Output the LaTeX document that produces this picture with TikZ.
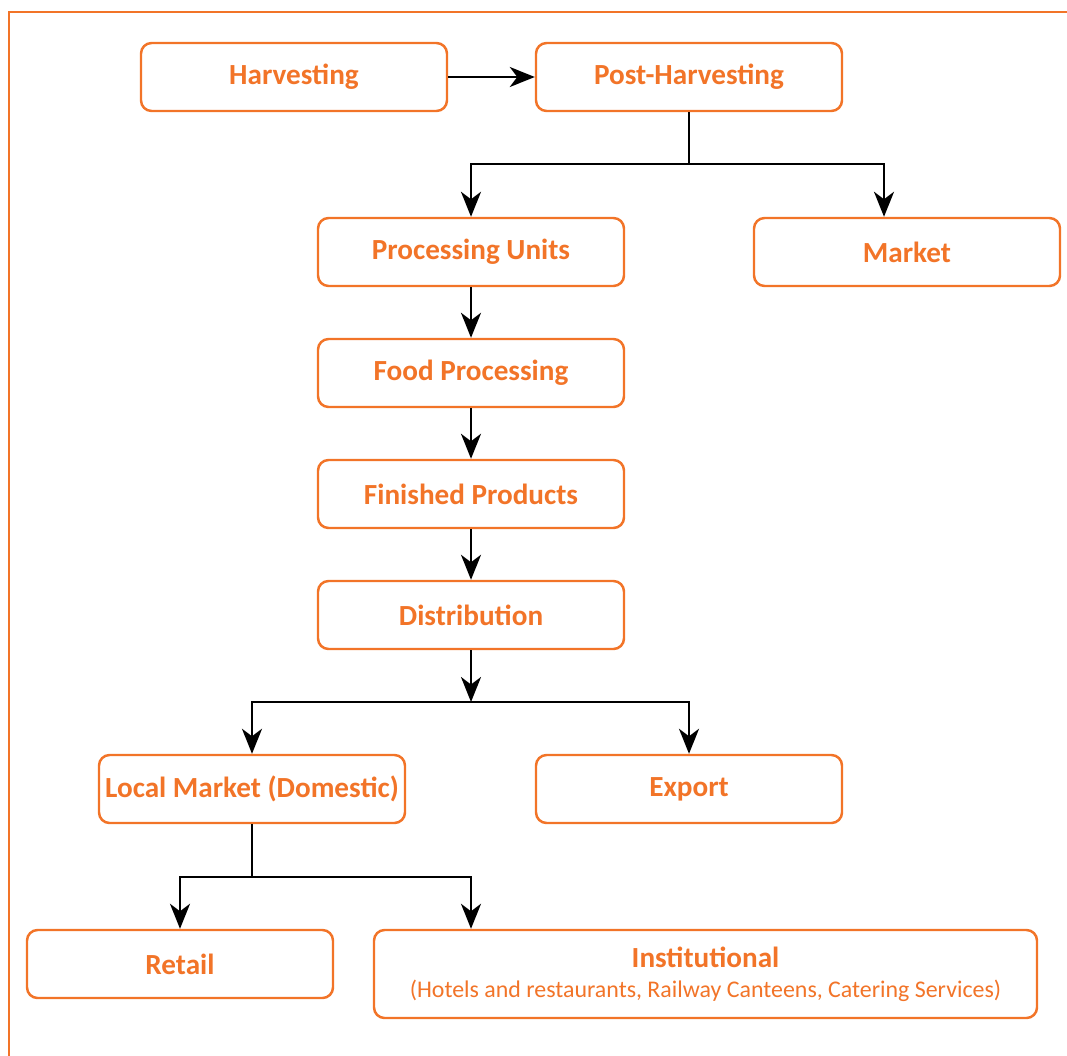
\documentclass[tikz,border=0pt]{standalone}
\usepackage{fontspec}
\setmainfont{Carlito}
\usetikzlibrary{arrows.meta}
\definecolor{flowOrange}{RGB}{242,116,40}

\begin{document}
\begin{tikzpicture}[
    stagebox/.style={rectangle, draw=flowOrange, line width=1.4pt, rounded corners=6pt, fill=white,
        minimum width=6.12cm, minimum height=1.36cm, text=flowOrange, font=\fontsize{16.6}{19}\selectfont\bfseries},
    flowarrow/.style={line width=1.5pt, -{Stealth[length=0.5cm, width=0.4cm, inset=0.15cm]}},
    flowline/.style={line width=1.5pt}
]
    \useasboundingbox (0,0) rectangle (21.34,-21.1);

    % Outer frame (only top and left edges show)
    \draw[flowOrange, line width=1.6pt] (21.4,-0.24) -- (0.18,-0.24) -- (0.18,-21.2);

    % Top row
    \node[stagebox] (harv) at (5.88,-1.54) {Harvesting};
    \node[stagebox] (post) at (13.78,-1.54) {Post-Harvesting};

    % Second row
    \node[stagebox] (units) at (9.42,-5.04) {Processing Units};
    \node[stagebox] (market) at (18.14,-5.04) {Market};

    % Main chain
    \node[stagebox] (food) at (9.42,-7.46) {Food Processing};
    \node[stagebox] (finished) at (9.42,-9.88) {Finished Products};
    \node[stagebox] (dist) at (9.42,-12.30) {Distribution};

    % Markets
    \node[stagebox] (local) at (5.04,-15.78) {Local Market (Domestic)};
    \node[stagebox] (export) at (13.78,-15.78) {Export};

    % Outlets
    \node[stagebox] (retail) at (3.60,-19.28) {Retail};
    \node[stagebox, minimum width=13.26cm, minimum height=1.76cm, align=center] (inst) at (14.11,-19.48)
        {Institutional\\[-2pt]{\fontsize{13.6}{15}\selectfont\mdseries (Hotels and restaurants, Railway Canteens, Catering Services)}};

    % Junction points
    \coordinate (j1) at (13.78,-3.28);
    \coordinate (j2) at (9.42,-14.04);
    \coordinate (j3) at (5.04,-17.54);

    % Connectors
    \draw[flowarrow] (harv.east) -- (post.west);

    \draw[flowline] (post.south) -- (j1);
    \draw[flowarrow] (j1) -| (units.north);
    \draw[flowarrow] (j1) -| ([xshift=-0.46cm]market.north);

    \draw[flowarrow] (units.south) -- (food.north);
    \draw[flowarrow] (food.south) -- (finished.north);
    \draw[flowarrow] (finished.south) -- (dist.north);

    \draw[flowarrow] (dist.south) -- (j2);
    \draw[flowarrow] (j2) -| (local.north);
    \draw[flowarrow] (j2) -| (export.north);

    \draw[flowline] (local.south) -- (j3);
    \draw[flowarrow] (j3) -| (retail.north);
    \draw[flowarrow] (j3) -| (inst.north -| units.south);

\end{tikzpicture}
\end{document}
